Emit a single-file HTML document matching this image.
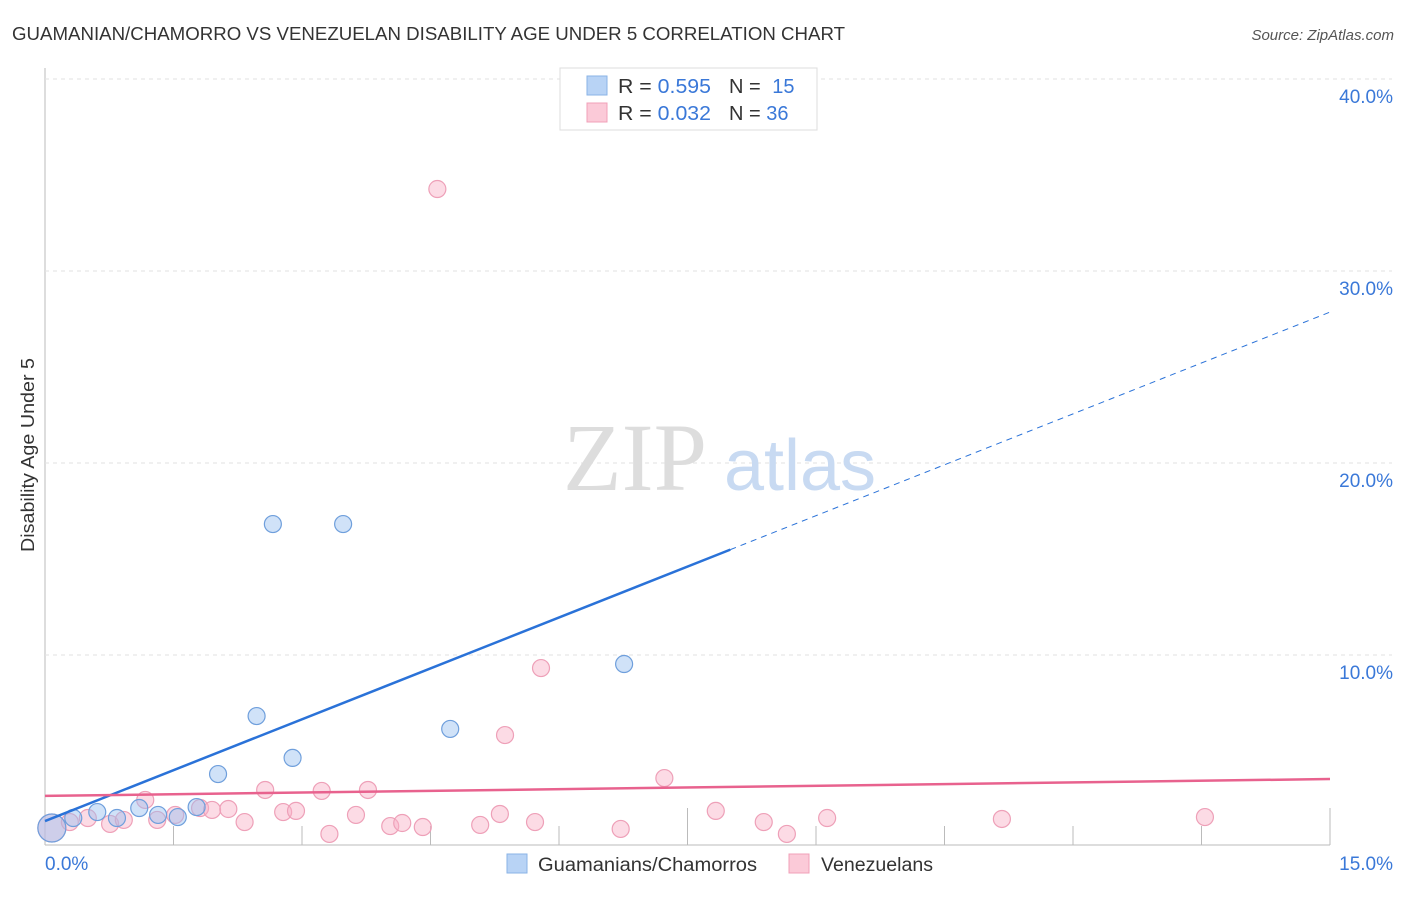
<!DOCTYPE html>
<html><head><meta charset="utf-8"><style>
body{margin:0;background:#fff;font-family:"Liberation Sans",sans-serif;}
svg text{font-family:"Liberation Sans",sans-serif;}
</style></head><body>
<svg id="chart" width="1406" height="892" viewBox="0 0 1406 892" xmlns="http://www.w3.org/2000/svg">
<text x="12" y="40" font-size="18" fill="#333" textLength="833" lengthAdjust="spacingAndGlyphs">GUAMANIAN/CHAMORRO VS VENEZUELAN DISABILITY AGE UNDER 5 CORRELATION CHART</text>
<text x="1394" y="40" font-size="15" fill="#555" font-style="italic" text-anchor="end">Source: ZipAtlas.com</text>
<g id="grid"></g>
<text x="635" y="490" font-size="96" fill="#ddd" text-anchor="middle" style="font-family:'Liberation Serif',serif">ZIP</text>
<text x="800" y="490" font-size="72" fill="#c8daf2" text-anchor="middle">atlas</text>
<text transform="translate(34,455) rotate(-90)" font-size="18" fill="#333" text-anchor="middle" textLength="194" lengthAdjust="spacingAndGlyphs">Disability Age Under 5</text>
<g id="marks"></g>
<g>
<rect x="560" y="68" width="257" height="62" fill="#fff" stroke="#ddd"/>
<rect x="587" y="76" width="20" height="19" fill="#b8d3f5" stroke="#8ab3e6"/>
<rect x="587" y="103" width="20" height="19" fill="#fbcad8" stroke="#f0a0b8"/>
<text x="618" y="93" font-size="20" fill="#333" textLength="93" lengthAdjust="spacingAndGlyphs">R = <tspan fill="#3a78d8">0.595</tspan></text>
<text x="729" y="93" font-size="20" fill="#333">N = <tspan fill="#3a78d8" dx="6">15</tspan></text>
<text x="618" y="120" font-size="20" fill="#333" textLength="93" lengthAdjust="spacingAndGlyphs">R = <tspan fill="#3a78d8">0.032</tspan></text>
<text x="729" y="120" font-size="20" fill="#333">N = <tspan fill="#3a78d8">36</tspan></text>
</g>
<g>
<rect x="507" y="854" width="20" height="19" fill="#b8d3f5" stroke="#8ab3e6"/>
<text x="538" y="871" font-size="19" fill="#333" textLength="219" lengthAdjust="spacingAndGlyphs">Guamanians/Chamorros</text>
<rect x="789" y="854" width="20" height="19" fill="#fbcad8" stroke="#f0a0b8"/>
<text x="821" y="871" font-size="19" fill="#333" textLength="112" lengthAdjust="spacingAndGlyphs">Venezuelans</text>
</g>
</svg>
<script>
const yTicks=[10,20,30,40];
const yTickLabels=["10.0%","20.0%","30.0%","40.0%"];
const xTickVals=[0,1.5,3,4.5,6,7.5,9,10.5,12,13.5,15];
const xEndLabels=["0.0%","15.0%"];
const guamX=[0.08,0.33,0.61,0.84,1.10,1.32,1.55,1.77,2.02,2.47,2.66,2.89,3.48,4.73,6.76];
const guamY=[0.99,1.51,1.82,1.51,2.03,1.67,1.56,2.08,3.80,6.82,16.82,4.64,16.82,6.15,9.53];
const venX=[0.08,0.29,0.50,0.76,0.92,1.17,1.31,1.52,1.81,1.95,2.14,2.33,2.57,2.78,2.93,3.23,3.32,3.63,3.77,4.03,4.17,4.41,4.58,5.08,5.31,5.37,5.72,5.79,6.72,7.23,7.83,8.39,8.66,9.13,11.17,13.54];
const venY=[0.99,1.30,1.51,1.20,1.41,2.45,1.41,1.67,2.03,1.93,1.98,1.30,2.97,1.82,1.88,2.92,0.68,1.67,2.97,1.09,1.25,1.04,34.27,1.15,1.72,5.83,1.30,9.32,0.94,3.59,1.88,1.30,0.68,1.51,1.46,1.56];
const guamTrend=[1.35,27.86];
const guamSolidEnd=8.0;
const venTrend=[2.66,3.54];
const NS="http://www.w3.org/2000/svg";
const X=v=>45+v*(1285/15);
const Y=v=>847-v*19.2;
function mk(tag,attrs,parent){const e=document.createElementNS(NS,tag);for(const k in attrs)e.setAttribute(k,attrs[k]);parent.appendChild(e);return e;}
const grid=document.getElementById('grid'),marks=document.getElementById('marks');
let ax=mk('line',{x1:45,y1:68,x2:45,y2:845,stroke:'#bbb'},grid);


let bx=mk('line',{x1:45,y1:845,x2:1330,y2:845,stroke:'#bbb'},grid);


yTicks.forEach((t,i)=>{
 let g=mk('line',{x1:45,y1:Y(t),x2:1392,y2:Y(t),stroke:'#e2e2e2','stroke-dasharray':'4,4'},grid);
 
 
 let l=mk('text',{x:1393,y:Y(t)+24,'font-size':19,fill:'#3a78d8','text-anchor':'end'},grid);
 l.textContent=yTickLabels[i];
 
 
});
xTickVals.forEach((t,i)=>{
 const tall=(i===0||i===5||i===10);
 let tk=mk('line',{x1:X(t),y1:tall?808:826,x2:X(t),y2:845,stroke:'#bbb'},grid);
 
 
});
[[0,'start',45],[1,'end',1393]].forEach(([i,a,x])=>{
 let l=mk('text',{x:x,y:870,'font-size':19,fill:'#3a78d8','text-anchor':a},grid);
 l.textContent=xEndLabels[i];
 
 
});
function pts(xs,ys,fill,stroke,name){
 xs.forEach((x,i)=>{
  const big=i===0;
  let c=mk('circle',{cx:X(x),cy:Y(ys[i]),r:big?14:8.5,fill:fill,stroke:stroke,'stroke-width':1.2},marks);
  
  
 });
}
pts(venX,venY,'rgba(248,175,198,0.45)','#eea0b8','venezuelan-point');
pts(guamX,guamY,'rgba(150,190,240,0.45)','#6f9fdc','guamanian-point');
const gy=x=>guamTrend[0]+(guamTrend[1]-guamTrend[0])*x/15;
let t1=mk('line',{x1:X(0),y1:Y(gy(0)),x2:X(guamSolidEnd),y2:Y(gy(guamSolidEnd)),stroke:'#2a72d8','stroke-width':2.5},marks);


let t2=mk('line',{x1:X(guamSolidEnd),y1:Y(gy(guamSolidEnd)),x2:X(15),y2:Y(gy(15)),stroke:'#2a72d8','stroke-width':1,'stroke-dasharray':'6,5'},marks);


let t3=mk('line',{x1:X(0),y1:Y(venTrend[0]),x2:X(15),y2:Y(venTrend[1]),stroke:'#e8628e','stroke-width':2.5},marks);


</script>
</body></html>
